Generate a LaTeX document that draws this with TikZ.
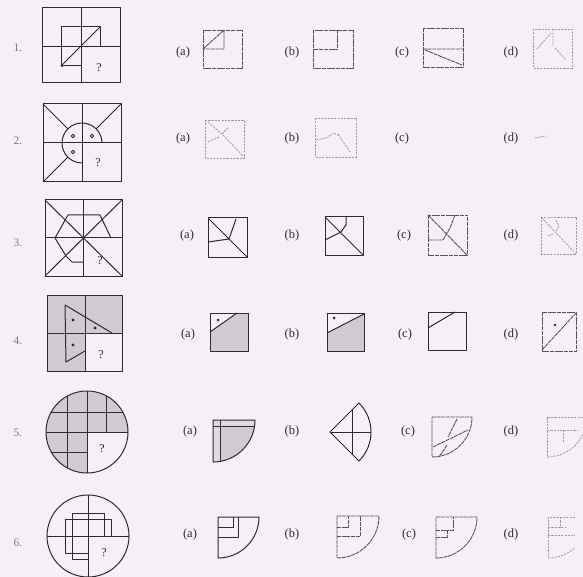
\documentclass[tikz,border=0pt]{standalone}
\usepackage{fontspec}
\setmainfont{Liberation Serif}
\definecolor{pzpaper}{RGB}{246,239,246}
\definecolor{pzink}{RGB}{45,42,48}
\definecolor{pzfaint}{RGB}{160,154,162}
\definecolor{pzgray}{RGB}{208,202,210}
\definecolor{pzlight}{RGB}{224,218,226}
\definecolor{pznum}{RGB}{125,120,128}
\tikzset{
  pzline/.style={draw=pzink, line width=1pt, line join=round},
  pzmid/.style={draw=pzink!80, line width=0.9pt, line join=round, dash pattern=on 4pt off 0.7pt},
  pzfade/.style={draw=pzfaint, line width=0.8pt, dash pattern=on 2.2pt off 1.1pt},
  pzshade/.style={fill=pzgray},
  pzdot/.style={fill=pzink},
  optlbl/.style={font=\fontsize{12.5}{14}\selectfont, text=pzink, inner sep=0pt},
  qnum/.style={font=\fontsize{11.5}{13}\selectfont, text=pznum, inner sep=0pt},
  qmark/.style={font=\fontsize{12}{13}\selectfont, text=pzink, inner sep=0pt}
}
\begin{document}
\begin{tikzpicture}[x=1pt,y=-1pt]
  \fill[pzpaper] (0,0) rectangle (583,577);
  \useasboundingbox (0,0) rectangle (583,577);
  % numbers and option labels
  \foreach \r/\y in {1/48,2/141,3/243,4/341,5/433,6/543}
    \node[qnum] (num\r) at (18,\y) {\r.};
  \foreach \r/\y/\xa/\xc in {1/52/183/402,2/138/183/402,3/235/187/404,4/334/188/405,5/431/190/408,6/534/190/409} {
    \node[optlbl] (opt\r a) at (\xa,\y) {(a)};
    \node[optlbl] (opt\r b) at (292,\y) {(b)};
    \node[optlbl] (opt\r c) at (\xc,\y) {(c)};
    \node[optlbl] (opt\r d) at (511,\y) {(d)};
  }

  % question 1
  \draw[pzline] (42,8) rectangle (120,83);
  \draw[pzline] (81,8) -- (81,83) (42,47) -- (120,47);
  \draw[pzline] (81,66) -- (61,66) -- (61,27) -- (100,27) -- (100,47);
  \draw[pzline] (61,66) -- (100,27);
  \fill[pzdot] (62,66) circle (1.2);
  \node[qmark] (ask1) at (99,68) {?};
  \draw[pzmid] (203,30) rectangle (242,68);
  \draw[pzmid] (224,30) -- (224,49) -- (203,49) (203,49) -- (224,30);
  \draw[pzmid] (313,30) rectangle (353,68);
  \draw[pzmid] (337,30) -- (337,49) -- (313,49);
  \draw[pzmid] (423,28) rectangle (463,67);
  \draw[pzmid] (423,49) -- (463,49) (425,50) -- (462,65);
  \draw[pzfade] (533,29) rectangle (572,68);
  \draw[pzfade] (553,29) -- (553,46) (537,49) -- (551,33) (555,48) -- (566,60);

  % question 2
  \draw[pzline] (43,104) rectangle (121,182);
  \draw[pzline] (82,104) -- (82,182) (43,143) -- (121,143);
  \draw[pzline] (82,163) arc[start angle=90, end angle=360, radius=20];
  \draw[pzline] (43,104) -- (68,129) (121,104) -- (96,129) (43,182) -- (68,157);
  \draw[pzline, line width=0.8pt] (73,136) circle (1.8) (92,136) circle (1.8) (73,152) circle (1.8);
  \node[qmark] (ask2) at (98,163) {?};
  \draw[pzfade] (205,120) rectangle (244,158);
  \draw[pzfade] (208,122) -- (222,134) -- (243,156) (222,134) -- (229,127) (208,142) -- (219,137);
  \draw[pzfade] (315,118) rectangle (356,157);
  \draw[pzfade] (316,140) -- (326,138) -- (334,133) -- (340,136) (338,134) -- (350,152);
  \draw[pzfade] (535,138) -- (546,136);

  % question 3
  \draw[pzline] (45,200) rectangle (122,276);
  \draw[pzline] (83.5,200) -- (83.5,276) (45,238) -- (122,238);
  \draw[pzline] (45,200) -- (122,276) (45,276) -- (122,200);
  \draw[pzline] (83.5,262) -- (72,262) -- (66,256) -- (55,238) -- (68,215) -- (100,215) -- (111,238);
  \node[qmark] (ask3) at (100,261) {?};
  \draw[pzline] (208,218) rectangle (247,257);
  \draw[pzline] (208,218) -- (247,257) (236,219) -- (229,239) -- (208,242);
  \draw[pzline] (325,217) rectangle (363,255);
  \draw[pzline] (325,217) -- (363,255) (346,217) -- (346,225) -- (341,232) -- (325,240);
  \draw[pzmid] (428,215) rectangle (467,255);
  \draw[pzmid] (428,215) -- (467,255) (455,215) -- (450,228) -- (447,233) -- (443,240) -- (428,240);
  \draw[pzfade] (541,217) rectangle (576,254);
  \draw[pzfade] (541,217) -- (576,254) (556,220) -- (559,226) -- (556,232) (548,236) -- (553,234);

  % question 4
  \fill[pzshade] (47,295) rectangle (122,333) (47,333) rectangle (85,371);
  \draw[pzline] (47,295) rectangle (122,371);
  \draw[pzline] (85,295) -- (85,371) (47,333) -- (122,333);
  \draw[pzline] (112,333) -- (65,305) -- (66,362) -- (85,351);
  \fill[pzdot] (73,320) circle (1.6) (95,328) circle (1.6) (73,345) circle (1.6);
  \node[qmark] (ask4) at (101,355) {?};
  \fill[pzshade] (210,332) -- (237,313) -- (248,313) -- (248,351) -- (210,351) -- cycle;
  \draw[pzline] (210,313) rectangle (248,351);
  \draw[pzline] (210,332) -- (237,313);
  \fill[pzdot] (218,320) circle (1.5);
  \fill[pzshade] (327,333) -- (364,314) -- (364,351) -- (327,351) -- cycle;
  \draw[pzline] (327,313) rectangle (364,351);
  \draw[pzline] (327,333) -- (364,314);
  \fill[pzdot] (334,318) circle (1.5);
  \draw[pzline] (428,312) rectangle (466,350);
  \draw[pzline] (428,328) -- (455,312);
  \draw[pzmid] (542,312) rectangle (576,351);
  \draw[pzmid] (542,350) -- (576,313);
  \fill[pzdot] (555,325) circle (1.3);

  % question 5
  \fill[pzshade] (87,432) -- (87,473) arc[start angle=90, end angle=360, radius=41] -- cycle;
  \begin{scope}
    \clip (87,432) circle (41);
    \draw[pzline] (67,391) -- (67,473) (87,391) -- (87,473) (106,391) -- (106,432);
    \draw[pzline] (46,412) -- (128,412) (46,432) -- (128,432) (46,452) -- (87,452);
  \end{scope}
  \draw[pzline] (87,432) circle (41);
  \node[qmark] (ask5) at (102,449) {?};
  \fill[pzlight] (213,420) -- (255,420) arc[start angle=0, end angle=90, radius=42] -- cycle;
  \fill[pzgray] (220,426) -- (254.6,426) arc[start angle=8.2, end angle=80.4, radius=42] -- cycle;
  \draw[pzline] (213,420) -- (255,420) arc[start angle=0, end angle=90, radius=42] -- cycle;
  \draw[pzline, line width=0.7pt] (220,420) -- (220,461.4) (213,426) -- (254.6,426);
  \draw[pzline] (330,432) -- ++(-45:41) arc[start angle=-45, end angle=45, radius=41] -- cycle;
  \draw[pzline] (330,432) -- (371,432) (352,410) -- (352,454);
  \draw[pzmid] (432,417) -- (472,417) arc[start angle=0, end angle=90, radius=40] -- cycle;
  \draw[pzmid] (433,447) -- (468,430) (457,419) -- (448,437) (447,445) -- (439,457);
  \draw[pzfade] (583,417) -- (547,417) -- (547,457);
  \draw[pzfade] (547,417) ++(25:40) arc[start angle=25, end angle=90, radius=40];
  \draw[pzfade] (547,430) -- (578,430) (563,430) -- (563,443);

  % question 6
  \draw[pzline] (88,536) circle (41);
  \draw[pzline] (88,495) -- (88,577) (47,536) -- (129,536);
  \draw[pzline] (88,559) -- (72,559) -- (72,513) -- (104,513) -- (104,536);
  \draw[pzline] (88,553) -- (65,553) -- (65,519) -- (111,519) -- (111,536);
  \node[qmark] (ask6) at (104,553) {?};
  \draw[pzline] (218,517) -- (259,517) arc[start angle=0, end angle=90, radius=41] -- cycle;
  \draw[pzline] (218,527) -- (233,527) -- (233,517) (218,537) -- (238,537) -- (238,517);
  \draw[pzmid] (337,516) -- (379,516) arc[start angle=0, end angle=90, radius=42] -- cycle;
  \draw[pzmid] (337,527) -- (348,527) -- (348,516) (337,536) -- (360,536) -- (360,516);
  \draw[pzmid] (436,517) -- (477,517) arc[start angle=0, end angle=90, radius=41] -- cycle;
  \draw[pzmid] (436,530) -- (453,530) -- (453,517) (436,537) -- (447,537) -- (447,530);
  \draw[pzfade] (575,517) -- (548,517) -- (548,557);
  \draw[pzfade] (548,517) ++(50:41) arc[start angle=50, end angle=90, radius=41];
  \draw[pzfade] (548,527) -- (565,527) (548,535) -- (575,535) (560,517) -- (560,527);
\end{tikzpicture}
\end{document}
